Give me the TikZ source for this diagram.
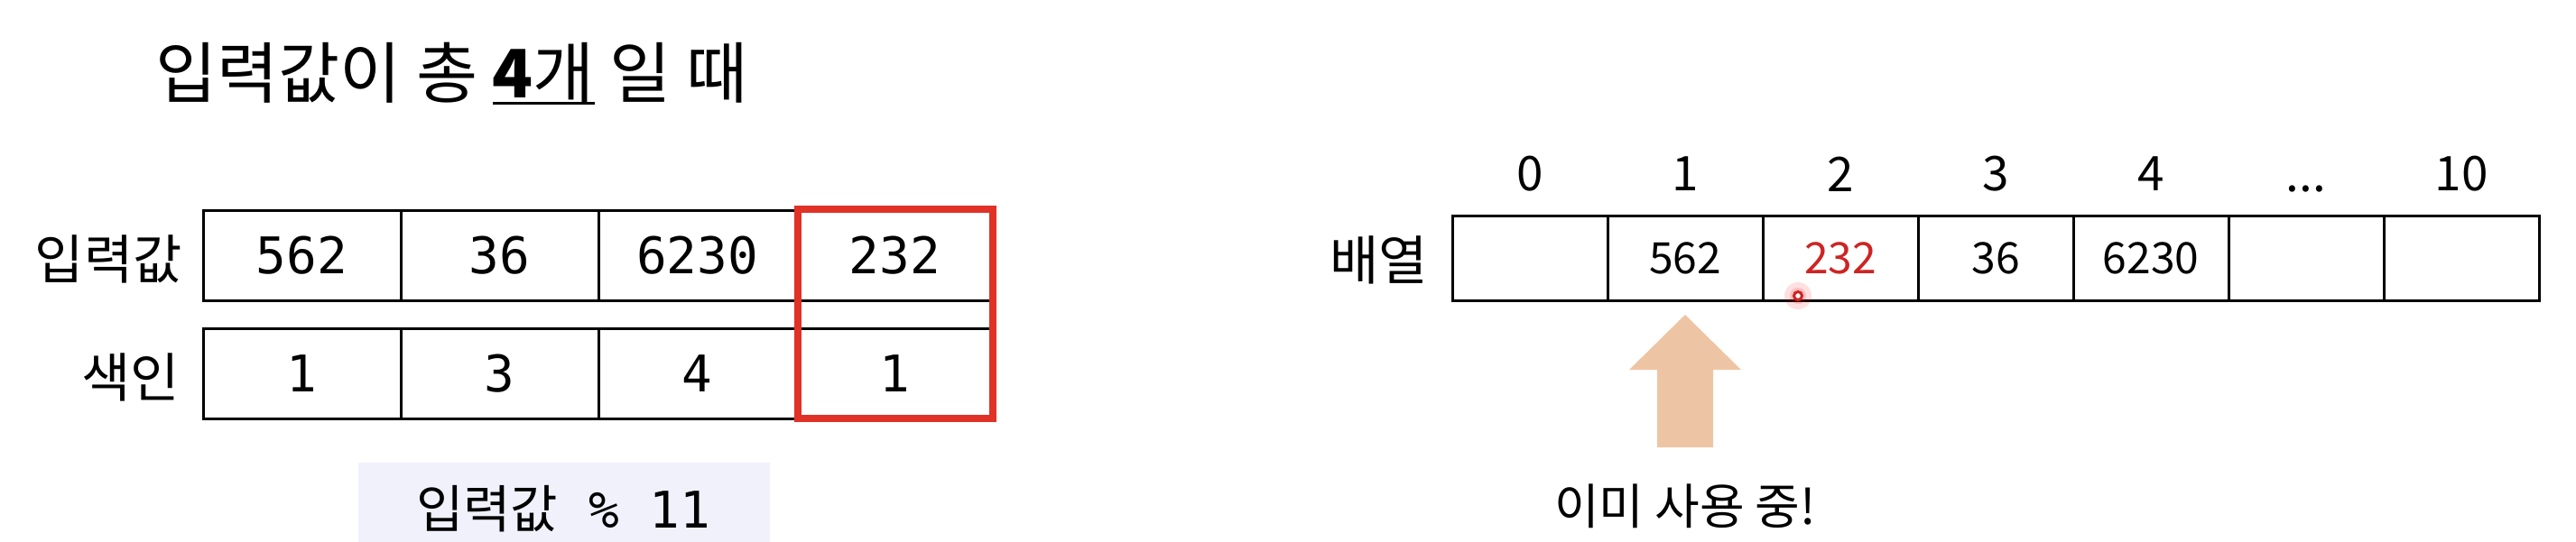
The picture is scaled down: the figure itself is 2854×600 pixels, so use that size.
\documentclass[tikz,border=0pt]{standalone}
\usepackage{fontspec}
\setmainfont{Noto Sans CJK KR}
\newfontfamily\kr{Noto Sans CJK KR}
\newfontfamily\monofam{DejaVu Sans Mono}
\definecolor{boxred}{RGB}{224,50,38}
\definecolor{txtred}{RGB}{206,36,36}
\definecolor{peach}{RGB}{238,197,164}
\definecolor{lav}{RGB}{240,241,251}
\newcommand{\thickul}[1]{\setbox0\hbox{#1}\rlap{\rule[-8pt]{\wd0}{3.5pt}}\box0\relax}
\tikzset{
  lcell/.style={draw=black, line width=3pt, minimum width=219pt, minimum height=100pt,
    inner sep=0pt, font=\monofam\fontsize{56}{60}\selectfont},
  rcell/.style={draw=black, line width=3pt, minimum width=172pt, minimum height=94pt,
    inner sep=0pt, font=\kr\fontsize{48}{52}\selectfont},
  idx/.style={inner sep=0pt, font=\kr\fontsize{53}{56}\selectfont},
  lbl/.style={inner sep=0pt, font=\kr\fontsize{59}{62}\selectfont},
}
\begin{document}
\begin{tikzpicture}[x=1pt,y=-1pt]
\useasboundingbox (0,0) rectangle (2854,600);
% title
\node[anchor=base west, inner sep=0pt, font=\kr\fontsize{74}{80}\selectfont] (title) at (172,108)
  {입력값이 총 \thickul{\textbf{4}개} 일 때};
% left table
\foreach \v/\i [count=\k from 0] in {562/1,36/3,6230/4,232/1}{
  \node[lcell] (in\k) at (334.5+219*\k,283) {\v};
  \node[lcell] (ix\k) at (334.5+219*\k,414) {\i};
}
\node[lbl, anchor=east] (linput) at (202,287) {입력값};
\node[lbl, anchor=east] (lindex) at (199,418) {색인};
\node[draw=boxred, line width=8pt, minimum width=216pt, minimum height=232pt, inner sep=0pt] (hl) at (992,348) {};
% formula box
\node[fill=lav, minimum width=456pt, minimum height=100pt, inner sep=0pt, anchor=north west] (fbox) at (397,513) {};
\node[inner sep=0pt] (formula) at (624,564)
  {{\kr\fontsize{57}{60}\selectfont 입력값}{\monofam\fontsize{56}{60}\selectfont\ \%\ 11}};
% right array indices
\node[idx] (n0) at (1695,193) {0};
\node[idx] (n1) at (1867,193) {1};
\node[idx] (n2) at (2039,193) {2};
\node[idx] (n3) at (2211,193) {3};
\node[idx] (n4) at (2383,193) {4};
\node[idx] (n5) at (2555,210) {...};
\node[idx] (n6) at (2727,193) {10};
% right array cells
\node[rcell] (a0) at (1695,286) {};
\node[rcell] (a1) at (1867,286) {562};
\node[rcell, text=txtred] (a2) at (2039,286) {232};
\node[rcell] (a3) at (2211,286) {36};
\node[rcell] (a4) at (2383,286) {6230};
\node[rcell] (a5) at (2555,286) {};
\node[rcell] (a6) at (2727,286) {};
\node[lbl, anchor=east] (larr) at (1582,288) {배열};
% block arrow
\coordinate (tip) at (1867,349);
\fill[peach] (1836,496) -- (1836,410) -- (1805,410) -- (tip) -- (1929,410) -- (1898,410) -- (1898,496) -- cycle;
\node[inner sep=0pt, font=\kr\fontsize{54}{56}\selectfont] (used) at (1867,561) {이미 사용 중!};
% pointer dot
\fill[red, opacity=0.12] (1992,328) circle (15);
\fill[red, opacity=0.15] (1992,328) circle (9);
\draw[txtred, line width=3pt, fill=white] (1992,328) circle (4.5);
\end{tikzpicture}
\end{document}
